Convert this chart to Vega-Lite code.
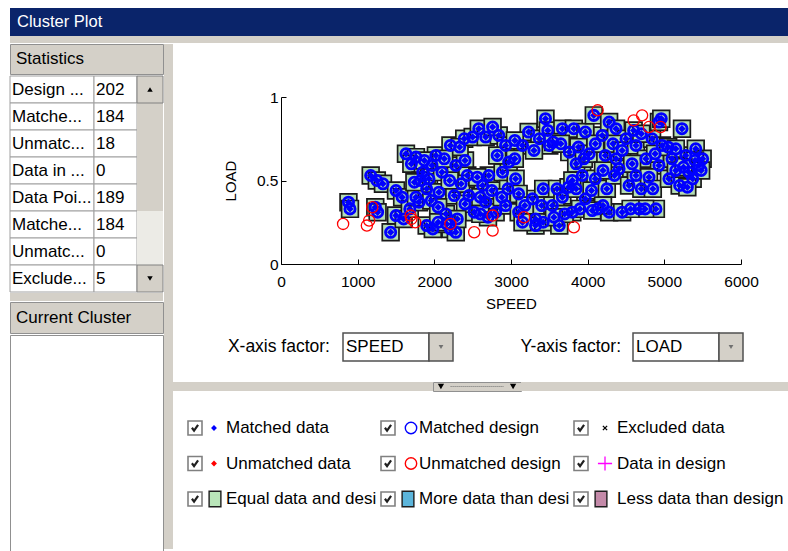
{
 "$schema": "https://vega.github.io/schema/vega-lite/v6.json",
 "background": "white",
 "padding": {"left": 9, "top": 8, "right": 0, "bottom": 0},
 "spacing": 0,
 "config": {
  "view": {"stroke": null},
  "font": "Liberation Sans",
  "text": {"font": "Liberation Sans", "fontSize": 17, "color": "black"},
  "concat": {"spacing": 0}
 },
 "datasets": {
  "matched": [
   {"speed":880,"load":0.37},{"speed":900,"load":0.33},{"speed":1170,"load":0.53},{"speed":1250,"load":0.50},{"speed":1330,"load":0.48},{"speed":1230,"load":0.34},{"speed":1260,"load":0.31},{"speed":1430,"load":0.19},{"speed":1500,"load":0.44},{"speed":1500,"load":0.29},{"speed":1600,"load":0.27},{"speed":1580,"load":0.40},
   {"speed":1630,"load":0.66},{"speed":1760,"load":0.64},{"speed":1700,"load":0.60},{"speed":1680,"load":0.33},{"speed":1800,"load":0.37},{"speed":1760,"load":0.40},{"speed":1850,"load":0.55},{"speed":1930,"load":0.51},{"speed":1970,"load":0.59},{"speed":1900,"load":0.45},{"speed":1900,"load":0.23},{"speed":1980,"load":0.21},{"speed":2020,"load":0.65},{"speed":1820,"load":0.50},{"speed":1870,"load":0.62},{"speed":1960,"load":0.38},{"speed":1740,"load":0.49},
   {"speed":2060,"load":0.43},{"speed":2100,"load":0.55},{"speed":2210,"load":0.71},{"speed":2280,"load":0.59},{"speed":2260,"load":0.41},{"speed":2210,"load":0.21},{"speed":2280,"load":0.19},{"speed":2390,"load":0.75},{"speed":2400,"load":0.62},{"speed":2430,"load":0.53},{"speed":2450,"load":0.41},{"speed":2520,"load":0.31},{"speed":2150,"load":0.30},{"speed":2050,"load":0.34},{"speed":2330,"load":0.70},{"speed":2350,"load":0.48},{"speed":2200,"load":0.50},{"speed":2130,"load":0.63},{"speed":2400,"load":0.36},{"speed":2300,"load":0.27},{"speed":2160,"load":0.24},{"speed":2050,"load":0.25},{"speed":2500,"load":0.76},
   {"speed":2580,"load":0.81},{"speed":2670,"load":0.76},{"speed":2630,"load":0.47},{"speed":2710,"load":0.53},{"speed":2670,"load":0.37},{"speed":2800,"load":0.31},{"speed":2840,"load":0.77},{"speed":2890,"load":0.55},{"speed":2930,"load":0.71},{"speed":2970,"load":0.61},{"speed":2930,"load":0.35},{"speed":2600,"load":0.40},{"speed":2750,"load":0.44},{"speed":2820,"load":0.65},{"speed":2700,"load":0.28},{"speed":2960,"load":0.45},{"speed":2880,"load":0.40},{"speed":2560,"load":0.52},{"speed":2600,"load":0.30},{"speed":2760,"load":0.82},
   {"speed":3060,"load":0.51},{"speed":3100,"load":0.31},{"speed":3150,"load":0.71},{"speed":3230,"load":0.79},{"speed":3280,"load":0.39},{"speed":3320,"load":0.27},{"speed":3320,"load":0.23},{"speed":3370,"load":0.75},{"speed":3450,"load":0.87},{"speed":3500,"load":0.71},{"speed":3050,"load":0.63},{"speed":3100,"load":0.42},{"speed":3300,"load":0.68},{"speed":3420,"load":0.45},{"speed":3400,"load":0.35},{"speed":3180,"load":0.35},{"speed":3050,"load":0.74},{"speed":3480,"load":0.80},{"speed":3150,"load":0.25},{"speed":3420,"load":0.25},
   {"speed":3540,"load":0.35},{"speed":3600,"load":0.45},{"speed":3630,"load":0.23},{"speed":3670,"load":0.81},{"speed":3670,"load":0.40},{"speed":3760,"load":0.67},{"speed":3800,"load":0.31},{"speed":3820,"load":0.81},{"speed":3930,"load":0.53},{"speed":3970,"load":0.79},{"speed":3970,"load":0.39},{"speed":3550,"load":0.73},{"speed":3700,"load":0.30},{"speed":3750,"load":0.46},{"speed":3850,"load":0.45},{"speed":3880,"load":0.70},{"speed":3900,"load":0.33},{"speed":3560,"load":0.28},{"speed":3650,"load":0.72},{"speed":3850,"load":0.60},{"speed":3950,"load":0.63},{"speed":3800,"load":0.50},
   {"speed":4020,"load":0.66},{"speed":4080,"load":0.89},{"speed":4100,"load":0.51},{"speed":4130,"load":0.33},{"speed":4190,"load":0.77},{"speed":4230,"load":0.65},{"speed":4280,"load":0.85},{"speed":4280,"load":0.31},{"speed":4370,"load":0.81},{"speed":4370,"load":0.63},{"speed":4410,"load":0.57},{"speed":4450,"load":0.31},{"speed":4500,"load":0.75},{"speed":4050,"load":0.44},{"speed":4250,"load":0.45},{"speed":4330,"load":0.72},{"speed":4450,"load":0.68},{"speed":4100,"load":0.72},{"speed":4200,"load":0.35},{"speed":4350,"load":0.53},{"speed":4200,"load":0.56},{"speed":4060,"load":0.32},
   {"speed":4540,"load":0.47},{"speed":4630,"load":0.71},{"speed":4630,"load":0.53},{"speed":4670,"load":0.33},{"speed":4760,"load":0.63},{"speed":4840,"load":0.75},{"speed":4890,"load":0.33},{"speed":4930,"load":0.85},{"speed":4930,"load":0.59},{"speed":4970,"load":0.71},{"speed":4580,"load":0.60},{"speed":4700,"load":0.45},{"speed":4800,"load":0.52},{"speed":4750,"load":0.33},{"speed":4880,"load":0.66},{"speed":4600,"load":0.80},{"speed":4560,"load":0.33},{"speed":4700,"load":0.78},{"speed":4850,"load":0.45},{"speed":4960,"load":0.87},
   {"speed":5060,"load":0.51},{"speed":5100,"load":0.63},{"speed":5230,"load":0.81},{"speed":5280,"load":0.65},{"speed":5320,"load":0.55},{"speed":5410,"load":0.69},{"speed":5450,"load":0.59},{"speed":5500,"load":0.63},{"speed":5370,"load":0.51},{"speed":5150,"load":0.56},{"speed":5200,"load":0.47},{"speed":5050,"load":0.70},{"speed":5300,"load":0.46},{"speed":5400,"load":0.62},{"speed":5150,"load":0.69},{"speed":5480,"load":0.56},{"speed":5250,"load":0.58}
  ],
  "unmatched": [
   {"speed":810,"load":0.24},{"speed":1150,"load":0.26},{"speed":1120,"load":0.23},{"speed":1190,"load":0.34},{"speed":1690,"load":0.29},{"speed":1750,"load":0.25},{"speed":1700,"load":0.27},{"speed":2210,"load":0.24},{"speed":2520,"load":0.19},{"speed":2760,"load":0.29},{"speed":2760,"load":0.20},{"speed":3170,"load":0.28},{"speed":3820,"load":0.22},{"speed":4130,"load":0.92},{"speed":4600,"load":0.86},{"speed":4710,"load":0.89},{"speed":4800,"load":0.82},{"speed":4950,"load":0.82}
  ],
  "stats": [
   {"row":1,"name":"Design ...","value":"202"},{"row":2,"name":"Matche...","value":"184"},{"row":3,"name":"Unmatc...","value":"18"},{"row":4,"name":"Data in ...","value":"0"},{"row":5,"name":"Data Poi...","value":"189"},{"row":6,"name":"Matche...","value":"184"},{"row":7,"name":"Unmatc...","value":"0"},{"row":8,"name":"Exclude...","value":"5"}
  ],
  "scroll": [
   {"row":1,"part":"up"},{"row":2,"part":"thumb"},{"row":3,"part":"thumb"},{"row":4,"part":"thumb"},{"row":5,"part":"thumb"},{"row":8,"part":"down"}
  ],
  "legend": [
   {"row":1,"col":1,"key":"mdata","label":"Matched data"},{"row":1,"col":2,"key":"mdesign","label":"Matched design"},{"row":1,"col":3,"key":"excl","label":"Excluded data"},
   {"row":2,"col":1,"key":"udata","label":"Unmatched data"},{"row":2,"col":2,"key":"udesign","label":"Unmatched design"},{"row":2,"col":3,"key":"indesign","label":"Data in design"},
   {"row":3,"col":1,"key":"equal","label":"Equal data and design"},{"row":3,"col":2,"key":"more","label":"More data than design"},{"row":3,"col":3,"key":"less","label":"Less data than design"}
  ]
 },
 "vconcat": [
  {"width":779,"height":28,"view":{"fill":"#0a246a"},"data":{"values":[{"label":"Cluster Plot"}]},
   "mark":{"type":"text","align":"left","baseline":"middle","dx":7,"color":"white","fontSize":16.5},
   "encoding":{"text":{"field":"label"},"x":{"datum":0,"type":"quantitative","scale":{"domain":[0,1]},"axis":null},"y":{"datum":0.5,"type":"quantitative","scale":{"domain":[0,1]},"axis":null}}},
  {"width":779,"height":7,"view":{"fill":"#d4d0c8"},"data":{"values":[]},"mark":"point"},
  {"hconcat":[
   {"vconcat":[
    {"width":153,"height":30,"view":{"fill":"#d4d0c8","stroke":"#909090"},"data":{"values":[{"label":"Statistics"}]},
     "mark":{"type":"text","align":"left","baseline":"middle","dx":6},
     "encoding":{"text":{"field":"label"},"x":{"datum":0,"type":"quantitative","scale":{"domain":[0,1]},"axis":null},"y":{"datum":0.5,"type":"quantitative","scale":{"domain":[0,1]},"axis":null}}},
    {"hconcat":[
     {"width":84,"height":216,"data":{"name":"stats"},
      "encoding":{"y":{"field":"row","type":"ordinal","axis":null,"scale":{"type":"band","domain":[1,2,3,4,5,6,7,8],"paddingInner":0,"paddingOuter":0}}},
      "layer":[
       {"mark":{"type":"rect","fill":"white","stroke":"#a0a0a0"}},
       {"mark":{"type":"text","align":"left","baseline":"middle","dx":2},"encoding":{"text":{"field":"name"},"x":{"datum":0,"type":"quantitative","scale":{"domain":[0,1]},"axis":null}}}
      ]},
     {"width":43,"height":216,"data":{"name":"stats"},
      "encoding":{"y":{"field":"row","type":"ordinal","axis":null,"scale":{"type":"band","domain":[1,2,3,4,5,6,7,8],"paddingInner":0,"paddingOuter":0}}},
      "layer":[
       {"mark":{"type":"rect","fill":"white","stroke":"#a0a0a0"}},
       {"mark":{"type":"text","align":"left","baseline":"middle","dx":2},"encoding":{"text":{"field":"value"},"x":{"datum":0,"type":"quantitative","scale":{"domain":[0,1]},"axis":null}}}
      ]},
     {"width":26,"height":216,"view":{"fill":"#ecebe6"},"data":{"name":"scroll"},
      "encoding":{"y":{"field":"row","type":"ordinal","axis":null,"scale":{"type":"band","domain":[1,2,3,4,5,6,7,8],"paddingInner":0,"paddingOuter":0}}},
      "layer":[
       {"transform":[{"filter":"datum.part === 'thumb'"}],"mark":{"type":"rect","fill":"#d4d0c8"}},
       {"transform":[{"filter":"datum.part !== 'thumb'"}],"mark":{"type":"rect","fill":"#d4d0c8","stroke":"#808080"}},
       {"transform":[{"filter":"datum.part !== 'thumb'"}],"mark":{"type":"point","filled":true,"color":"black","size":30,"opacity":1},
        "encoding":{"x":{"datum":0.5,"type":"quantitative","scale":{"domain":[0,1]},"axis":null},"shape":{"field":"part","type":"nominal","legend":null,"scale":{"domain":["up","down"],"range":["triangle-up","triangle-down"]}}}}
      ]}
    ],"spacing":0,"bounds":"flush"},
    {"width":153,"height":8,"view":{"fill":"#d4d0c8"},"data":{"values":[]},"mark":"point"},
    {"width":153,"height":31,"view":{"fill":"#d4d0c8","stroke":"#909090"},"data":{"values":[{"label":"Current Cluster"}]},
     "mark":{"type":"text","align":"left","baseline":"middle","dx":6},
     "encoding":{"text":{"field":"label"},"x":{"datum":0,"type":"quantitative","scale":{"domain":[0,1]},"axis":null},"y":{"datum":0.5,"type":"quantitative","scale":{"domain":[0,1]},"axis":null}}},
    {"width":153,"height":218,"view":{"fill":"white","stroke":"#909090"},"data":{"values":[]},"mark":"point"}
   ],"spacing":0},
   {"width":9,"height":505,"view":{"fill":"#d4d0c8"},"data":{"values":[]},"mark":"point"},
   {"vconcat":[
    {"width":1,"height":46,"data":{"values":[]},"mark":"point"},
    {"hconcat":[
     {"width":108,"height":1,"data":{"values":[]},"mark":"point"},
     {"width":460,"height":167,"data":{"name":"matched"},
      "encoding":{
       "x":{"field":"speed","type":"quantitative","scale":{"domain":[0,6000],"nice":false,"zero":false},
        "axis":{"title":"SPEED","values":[0,1000,2000,3000,4000,5000,6000],"format":"d","grid":false,"tickSize":-5,"labelPadding":15,"labelFontSize":15.5,"titleFontSize":15,"titleFontWeight":"normal","titlePadding":7,"domainColor":"black","tickColor":"black","labelColor":"black","titleColor":"black","labelFlush":false,"labelOverlap":false}},
       "y":{"field":"load","type":"quantitative","scale":{"domain":[0,1],"nice":false,"zero":false},
        "axis":{"title":"LOAD","values":[0,0.5,1],"format":"~g","grid":false,"tickSize":-5,"labelPadding":8,"labelFontSize":15.5,"titleFontSize":15,"titleFontWeight":"normal","titlePadding":18,"domainColor":"black","tickColor":"black","labelColor":"black","titleColor":"black","labelFlush":false,"labelOverlap":false}}
      },
      "layer":[
       {"mark":{"type":"point","shape":"square","filled":true,"size":280,"fill":"#b4dcb4","stroke":"#1a1a1a","strokeWidth":1.7,"opacity":1}},
       {"mark":{"type":"point","shape":"circle","filled":false,"size":105,"stroke":"#0000ff","strokeWidth":2.8,"opacity":1}},
       {"mark":{"type":"point","shape":"diamond","filled":true,"size":55,"color":"#0000ff","opacity":1}},
       {"data":{"name":"unmatched"},"mark":{"type":"point","shape":"circle","filled":false,"size":125,"stroke":"#ff0000","strokeWidth":1.3,"opacity":1}}
      ]}
    ],"spacing":0,"bounds":"flush"},
    {"width":1,"height":20,"data":{"values":[]},"mark":"point"},
    {"hconcat":[
     {"width":170,"height":28,"data":{"values":[{"label":"X-axis factor:"}]},"mark":{"type":"text","align":"right","baseline":"middle","dx":-13,"fontSize":17.5},
      "encoding":{"text":{"field":"label"},"x":{"datum":1,"type":"quantitative","scale":{"domain":[0,1]},"axis":null},"y":{"datum":0.5,"type":"quantitative","scale":{"domain":[0,1]},"axis":null}}},
     {"width":86,"height":28,"view":{"fill":"white","stroke":"#505050","strokeWidth":1.5},"data":{"values":[{"label":"SPEED"}]},"mark":{"type":"text","align":"left","baseline":"middle","dx":3},
      "encoding":{"text":{"field":"label"},"x":{"datum":0,"type":"quantitative","scale":{"domain":[0,1]},"axis":null},"y":{"datum":0.5,"type":"quantitative","scale":{"domain":[0,1]},"axis":null}}},
     {"width":24,"height":28,"view":{"fill":"#d4d0c8","stroke":"#505050","strokeWidth":1.5},"data":{"values":[{"label":"arrow"}]},"mark":{"type":"point","shape":"triangle-down","filled":true,"color":"#707070","size":22,"opacity":1},
      "encoding":{"x":{"datum":0.5,"type":"quantitative","scale":{"domain":[0,1]},"axis":null},"y":{"datum":0.5,"type":"quantitative","scale":{"domain":[0,1]},"axis":null}}},
     {"width":180,"height":28,"data":{"values":[{"label":"Y-axis factor:"}]},"mark":{"type":"text","align":"right","baseline":"middle","dx":-12,"fontSize":17.5},
      "encoding":{"text":{"field":"label"},"x":{"datum":1,"type":"quantitative","scale":{"domain":[0,1]},"axis":null},"y":{"datum":0.5,"type":"quantitative","scale":{"domain":[0,1]},"axis":null}}},
     {"width":86,"height":28,"view":{"fill":"white","stroke":"#505050","strokeWidth":1.5},"data":{"values":[{"label":"LOAD"}]},"mark":{"type":"text","align":"left","baseline":"middle","dx":3},
      "encoding":{"text":{"field":"label"},"x":{"datum":0,"type":"quantitative","scale":{"domain":[0,1]},"axis":null},"y":{"datum":0.5,"type":"quantitative","scale":{"domain":[0,1]},"axis":null}}},
     {"width":24,"height":28,"view":{"fill":"#d4d0c8","stroke":"#505050","strokeWidth":1.5},"data":{"values":[{"label":"arrow"}]},"mark":{"type":"point","shape":"triangle-down","filled":true,"color":"#707070","size":22,"opacity":1},
      "encoding":{"x":{"datum":0.5,"type":"quantitative","scale":{"domain":[0,1]},"axis":null},"y":{"datum":0.5,"type":"quantitative","scale":{"domain":[0,1]},"axis":null}}}
    ],"spacing":0,"bounds":"flush"},
    {"width":1,"height":19,"data":{"values":[]},"mark":"point"},
    {"hconcat":[
     {"width":260,"height":9,"view":{"fill":"#d4d0c8"},"data":{"values":[]},"mark":"point"},
     {"width":88,"height":9,"view":{"fill":"#d4d0c8","stroke":"#909090"},"data":{"values":[{"label":"handle"}]},
      "layer":[
       {"mark":{"type":"rule","color":"#707070","strokeDash":[1,1]},"encoding":{"x":{"datum":0.2,"type":"quantitative","scale":{"domain":[0,1]},"axis":null},"x2":{"datum":0.8},"y":{"datum":0.5,"type":"quantitative","scale":{"domain":[0,1]},"axis":null}}},
       {"mark":{"type":"point","shape":"triangle-down","filled":true,"color":"black","size":40,"opacity":1},"encoding":{"x":{"datum":0.09,"type":"quantitative","scale":{"domain":[0,1]},"axis":null},"y":{"datum":0.5,"type":"quantitative","scale":{"domain":[0,1]},"axis":null}}},
       {"mark":{"type":"point","shape":"triangle-down","filled":true,"color":"black","size":40,"opacity":1},"encoding":{"x":{"datum":0.91,"type":"quantitative","scale":{"domain":[0,1]},"axis":null},"y":{"datum":0.5,"type":"quantitative","scale":{"domain":[0,1]},"axis":null}}}
      ]},
     {"width":268,"height":9,"view":{"fill":"#d4d0c8"},"data":{"values":[]},"mark":"point"}
    ],"spacing":0,"bounds":"flush"},
    {"hconcat":[
     {"width":15,"height":1,"data":{"values":[]},"mark":"point"},
     {"width":579,"height":143,"data":{"name":"legend"},
      "encoding":{
       "x":{"field":"col","type":"ordinal","axis":null,"bandPosition":0,"scale":{"type":"band","paddingInner":0,"paddingOuter":0}},
       "y":{"field":"row","type":"ordinal","axis":null,"scale":{"type":"band","paddingInner":0,"paddingOuter":0.514}}
      },
      "layer":[
       {"transform":[{"filter":"datum.col < 3"}],"mark":{"type":"text","align":"left","baseline":"middle","dx":38,"limit":156,"ellipsis":" "},"encoding":{"text":{"field":"label"}}},
       {"transform":[{"filter":"datum.col === 3"}],"mark":{"type":"text","align":"left","baseline":"middle","dx":43},"encoding":{"text":{"field":"label"}}},
       {"transform":[{"filter":{"field":"key","oneOf":["mdata","udata"]}}],
        "mark":{"type":"point","shape":"diamond","filled":true,"size":34,"opacity":1,"xOffset":26},
        "encoding":{"fill":{"field":"key","type":"nominal","legend":null,"scale":{"domain":["mdata","udata"],"range":["#0000ff","#ff0000"]}}}},
       {"transform":[{"filter":{"field":"key","oneOf":["equal","more","less"]}}],
        "mark":{"type":"point","shape":"M-0.76,-1H0.76V1H-0.76Z","filled":true,"size":240,"stroke":"#1e1e1e","strokeWidth":1.4,"opacity":1,"xOffset":27},
        "encoding":{"fill":{"field":"key","type":"nominal","legend":null,"scale":{"domain":["equal","more","less"],"range":["#b9e5b9","#5cb5db","#c48aa9"]}}}},
       {"transform":[{"filter":{"field":"key","oneOf":["mdesign","udesign"]}}],
        "mark":{"type":"point","shape":"circle","filled":false,"size":130,"strokeWidth":1.4,"opacity":1,"xOffset":30},
        "encoding":{"stroke":{"field":"key","type":"nominal","legend":null,"scale":{"domain":["mdesign","udesign"],"range":["#0000ff","#ff0000"]}}}},
       {"transform":[{"filter":{"field":"key","oneOf":["excl","indesign"]}}],
        "mark":{"type":"point","filled":false,"strokeWidth":1.3,"opacity":1,"xOffset":31,"size":200},
        "encoding":{"stroke":{"field":"key","type":"nominal","legend":null,"scale":{"domain":["excl","indesign"],"range":["#000000","#ff00ff"]}},
                    "shape":{"field":"key","type":"nominal","legend":null,"scale":{"domain":["excl","indesign"],"range":["M-0.3,-0.3L0.3,0.3M-0.3,0.3L0.3,-0.3","M-1,0H1M0,-1V1"]}}}},
       {"mark":{"type":"point","shape":"square","filled":true,"fill":"white","stroke":"#808080","strokeWidth":1.6,"size":196,"opacity":1,"xOffset":7}},
       {"mark":{"type":"point","shape":"M-0.65,-0.05L-0.2,0.55L0.65,-0.65","filled":false,"stroke":"#202020","strokeWidth":2.2,"size":90,"opacity":1,"xOffset":7}}
      ],
      "resolve":{"scale":{"fill":"independent","stroke":"independent","shape":"independent"}}}
    ],"spacing":0,"bounds":"flush"}
   ],"spacing":0}
  ],"spacing":0},
  {"width":779,"height":2,"view":{"fill":"#a0a0a0"},"data":{"values":[]},"mark":"point"}
 ]
}
